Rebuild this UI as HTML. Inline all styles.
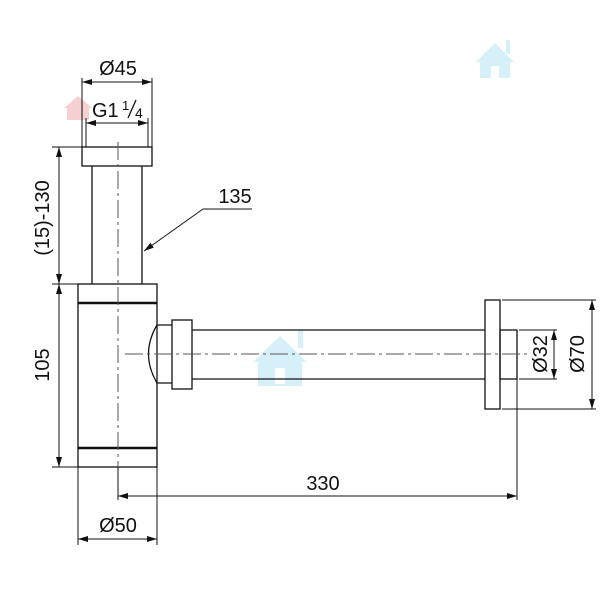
<!DOCTYPE html>
<html><head><meta charset="utf-8"><style>
html,body{margin:0;padding:0;background:#fff}
svg{display:block}
text{font-family:"Liberation Sans",sans-serif;fill:#111}
</style></head><body>
<svg width="612" height="612" viewBox="0 0 612 612" xmlns="http://www.w3.org/2000/svg">
<defs>
<marker id="a" viewBox="0 0 10 6" refX="10" refY="3" markerWidth="10" markerHeight="6" orient="auto-start-reverse" markerUnits="userSpaceOnUse"><path d="M0,0 L10,3 L0,6 z" fill="#111"/></marker>
</defs>
<g fill="#d6f0fa">
<path d="M476,62 L495,43 L514,62 L510,62 L510,78 L480,78 L480,62 z"/>
<rect x="506" y="40" width="4" height="14"/>
<path d="M253,362 L280,336 L307,362 L302,362 L302,386 L258,386 L258,362 z"/>
<rect x="298" y="330" width="5" height="18"/>
</g>
<rect x="275" y="368" width="10" height="16" fill="#fff"/>
<rect x="491" y="66" width="8" height="12" fill="#fff"/>
<g fill="#f6d0d0"><path d="M64,108 L78,96 L92,108 L89,108 L89,120 L67,120 L67,108 z"/></g>

<g stroke="#111" fill="none" stroke-width="1.3">
<rect x="82" y="147" width="70" height="19"/>
<line x1="92" y1="166" x2="92" y2="284"/><line x1="142" y1="166" x2="142" y2="284"/>
<rect x="78" y="284" width="79" height="183"/>
<line x1="78" y1="303" x2="157" y2="303" stroke-width="2.5"/>
<line x1="78" y1="448" x2="157" y2="448" stroke-width="2.5"/>
<path d="M157,325 L172,325 M157,383 L172,383"/>
<path d="M157,325 Q140,354 157,383"/>
<rect x="172" y="320" width="20" height="69"/>
<line x1="192" y1="330" x2="485" y2="330"/><line x1="192" y1="379" x2="485" y2="379"/>
<rect x="485" y="300" width="15" height="109"/>
<rect x="500" y="330" width="17" height="49"/>
</g>
<g stroke="#555" stroke-width="1" stroke-dasharray="18,4,3,4" fill="none">
<line x1="118" y1="142" x2="118" y2="490"/>
<line x1="125" y1="354" x2="530" y2="354"/>
</g>
<g stroke="#111" stroke-width="1" fill="none">
<line x1="82" y1="78" x2="82" y2="147"/><line x1="152" y1="78" x2="152" y2="147"/>
<line x1="82" y1="82" x2="152" y2="82" marker-start="url(#a)" marker-end="url(#a)"/>
<line x1="86" y1="118" x2="86" y2="147"/><line x1="148" y1="118" x2="148" y2="147"/>
<line x1="86" y1="123" x2="148" y2="123" marker-start="url(#a)" marker-end="url(#a)"/>
<line x1="52" y1="147" x2="82" y2="147"/><line x1="52" y1="284" x2="78" y2="284"/><line x1="52" y1="467" x2="78" y2="467"/>
<line x1="59" y1="147" x2="59" y2="284" marker-start="url(#a)" marker-end="url(#a)"/>
<line x1="59" y1="284" x2="59" y2="467" marker-start="url(#a)" marker-end="url(#a)"/>
<polyline points="252,209 203,209"/>
<line x1="203" y1="209" x2="144" y2="251" marker-end="url(#a)"/>
<line x1="78" y1="467" x2="78" y2="545"/><line x1="157" y1="467" x2="157" y2="545"/>
<line x1="78" y1="539" x2="157" y2="539" marker-start="url(#a)" marker-end="url(#a)"/>
<line x1="118" y1="467" x2="118" y2="500"/><line x1="517" y1="379" x2="517" y2="500"/>
<line x1="118" y1="496" x2="517" y2="496" marker-start="url(#a)" marker-end="url(#a)"/>
<line x1="519" y1="330" x2="557" y2="330"/><line x1="519" y1="379" x2="557" y2="379"/>
<line x1="554" y1="330" x2="554" y2="379" marker-start="url(#a)" marker-end="url(#a)"/>
<line x1="502" y1="300" x2="596" y2="300"/><line x1="502" y1="409" x2="596" y2="409"/>
<line x1="592" y1="300" x2="592" y2="409" marker-start="url(#a)" marker-end="url(#a)"/>
<line x1="128" y1="118" x2="136" y2="100" stroke-width="1.3"/>
</g>
<g font-size="20" text-anchor="middle">
<text x="118" y="75">Ø45</text>
<text x="235" y="203">135</text>
<text x="118" y="532">Ø50</text>
<text x="323" y="490">330</text>
<text transform="translate(49,218) rotate(-90)">(15)-130</text>
<text transform="translate(49,365) rotate(-90)">105</text>
<text transform="translate(547,354) rotate(-90)">Ø32</text>
<text transform="translate(584,354) rotate(-90)">Ø70</text>
</g>
<text x="92" y="117" font-size="20">G1</text>
<text x="122" y="110" font-size="13">1</text>
<text x="135" y="118" font-size="14">4</text>
</svg>
</body></html>
